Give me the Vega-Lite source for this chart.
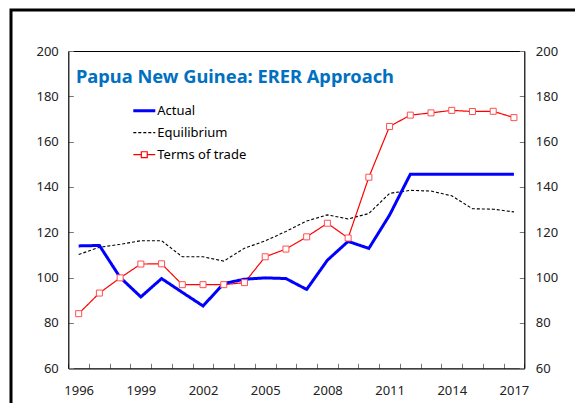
{
  "$schema": "https://vega.github.io/schema/vega-lite/v6.json",
  "width": 570,
  "height": 400,
  "autosize": {"type": "none"},
  "padding": {"left": 11, "top": 10, "right": -6, "bottom": -7},
  "title": {
    "text": "Papua New Guinea: ERER Approach",
    "anchor": "start",
    "frame": "group",
    "orient": "top",
    "offset": -91,
    "baseline": "alphabetic",
    "dx": 65,
    "font": "Noto Sans",
    "fontSize": 18.3,
    "fontWeight": "bold",
    "color": "#0070C0"
  },
  "data": {
    "values": [
      {"year": 1996, "series": "Actual", "value": 114.0},
      {"year": 1997, "series": "Actual", "value": 114.2},
      {"year": 1998, "series": "Actual", "value": 100.1},
      {"year": 1999, "series": "Actual", "value": 91.5},
      {"year": 2000, "series": "Actual", "value": 99.6},
      {"year": 2001, "series": "Actual", "value": 93.5},
      {"year": 2002, "series": "Actual", "value": 87.5},
      {"year": 2003, "series": "Actual", "value": 97.4},
      {"year": 2004, "series": "Actual", "value": 99.3},
      {"year": 2005, "series": "Actual", "value": 99.9},
      {"year": 2006, "series": "Actual", "value": 99.6},
      {"year": 2007, "series": "Actual", "value": 94.8},
      {"year": 2008, "series": "Actual", "value": 107.7},
      {"year": 2009, "series": "Actual", "value": 116.0},
      {"year": 2010, "series": "Actual", "value": 112.9},
      {"year": 2011, "series": "Actual", "value": 127.6},
      {"year": 2012, "series": "Actual", "value": 145.6},
      {"year": 2013, "series": "Actual", "value": 145.6},
      {"year": 2014, "series": "Actual", "value": 145.6},
      {"year": 2015, "series": "Actual", "value": 145.6},
      {"year": 2016, "series": "Actual", "value": 145.6},
      {"year": 2017, "series": "Actual", "value": 145.6},
      {"year": 1996, "series": "Equilibrium", "value": 110.2},
      {"year": 1997, "series": "Equilibrium", "value": 113.4},
      {"year": 1998, "series": "Equilibrium", "value": 114.7},
      {"year": 1999, "series": "Equilibrium", "value": 116.3},
      {"year": 2000, "series": "Equilibrium", "value": 116.3},
      {"year": 2001, "series": "Equilibrium", "value": 109.2},
      {"year": 2002, "series": "Equilibrium", "value": 109.2},
      {"year": 2003, "series": "Equilibrium", "value": 107.3},
      {"year": 2004, "series": "Equilibrium", "value": 113.0},
      {"year": 2005, "series": "Equilibrium", "value": 116.2},
      {"year": 2006, "series": "Equilibrium", "value": 120.4},
      {"year": 2007, "series": "Equilibrium", "value": 125.0},
      {"year": 2008, "series": "Equilibrium", "value": 127.7},
      {"year": 2009, "series": "Equilibrium", "value": 125.9},
      {"year": 2010, "series": "Equilibrium", "value": 128.3},
      {"year": 2011, "series": "Equilibrium", "value": 137.2},
      {"year": 2012, "series": "Equilibrium", "value": 138.5},
      {"year": 2013, "series": "Equilibrium", "value": 138.2},
      {"year": 2014, "series": "Equilibrium", "value": 136.1},
      {"year": 2015, "series": "Equilibrium", "value": 130.4},
      {"year": 2016, "series": "Equilibrium", "value": 130.2},
      {"year": 2017, "series": "Equilibrium", "value": 129.0},
      {"year": 1996, "series": "Terms of trade", "value": 84.1},
      {"year": 1997, "series": "Terms of trade", "value": 93.2},
      {"year": 1998, "series": "Terms of trade", "value": 99.9},
      {"year": 1999, "series": "Terms of trade", "value": 106.0},
      {"year": 2000, "series": "Terms of trade", "value": 106.1},
      {"year": 2001, "series": "Terms of trade", "value": 96.9},
      {"year": 2002, "series": "Terms of trade", "value": 96.9},
      {"year": 2003, "series": "Terms of trade", "value": 96.9},
      {"year": 2004, "series": "Terms of trade", "value": 97.8},
      {"year": 2005, "series": "Terms of trade", "value": 109.2},
      {"year": 2006, "series": "Terms of trade", "value": 112.6},
      {"year": 2007, "series": "Terms of trade", "value": 118.0},
      {"year": 2008, "series": "Terms of trade", "value": 124.0},
      {"year": 2009, "series": "Terms of trade", "value": 117.5},
      {"year": 2010, "series": "Terms of trade", "value": 144.3},
      {"year": 2011, "series": "Terms of trade", "value": 166.7},
      {"year": 2012, "series": "Terms of trade", "value": 171.7},
      {"year": 2013, "series": "Terms of trade", "value": 172.7},
      {"year": 2014, "series": "Terms of trade", "value": 173.8},
      {"year": 2015, "series": "Terms of trade", "value": 173.3},
      {"year": 2016, "series": "Terms of trade", "value": 173.4},
      {"year": 2017, "series": "Terms of trade", "value": 170.6}
    ]
  },
  "resolve": {"axis": {"x": "independent", "y": "independent"}},
  "layer": [
    {
      "transform": [{"filter": "datum.series == 'Equilibrium'"}],
      "mark": {"type": "line", "strokeWidth": 1.1},
      "encoding": {
        "x": {
          "field": "year", "type": "ordinal",
          "scale": {"type": "band", "paddingInner": 0, "paddingOuter": 0, "range": [57.3, 513.3]},
          "axis": {"orient": "bottom", "offset": -41.7, "tickBand": "extent", "tickSize": -5, "labelAngle": 0, "labelPadding": 21, "labelExpr": "(datum.value - 1996) % 3 == 0 ? datum.label : ''", "title": null}
        },
        "y": {
          "field": "value", "type": "quantitative",
          "scale": {"domain": [60, 200], "range": [358.3, 41], "nice": false, "zero": false},
          "axis": {"orient": "left", "offset": -57.3, "values": [60, 80, 100, 120, 140, 160, 180, 200], "tickSize": -5, "labelPadding": 15, "title": null}
        },
        "color": {
          "field": "series", "type": "nominal",
          "scale": {"domain": ["Actual", "Equilibrium", "Terms of trade"], "range": ["#0000FF", "#000000", "#FF0000"]},
          "legend": {
            "orient": "none", "legendX": 121.3, "legendY": 89.7, "title": null,
            "columns": 1, "clipHeight": 22,
            "symbolSize": 484, "labelOffset": 1, "rowPadding": 0, "padding": 0,
            "labelFont": "Noto Sans", "labelFontSize": 13, "labelColor": "#000",
            "encode": {"symbols": {"update": {
              "shape": {"signal": "datum.value == 'Terms of trade' ? 'M-1,0H-0.27M0.27,0H1M-0.27,-0.27H0.27V0.27H-0.27Z' : 'M-1,0H1'"},
              "strokeWidth": {"signal": "(datum.value == 'Actual' ? 3 : 1.2)"},
              "fill": {"value": "white"}
            }}}
          }
        },
        "strokeDash": {
          "field": "series", "type": "nominal",
          "scale": {"domain": ["Actual", "Equilibrium", "Terms of trade"], "range": [[1, 0], [3, 2], [1, 0]]}
        }
      }
    },
    {
      "transform": [{"filter": "datum.series == 'Terms of trade'"}],
      "mark": {"type": "line", "strokeWidth": 1.2},
      "encoding": {
        "x": {"field": "year", "type": "ordinal", "axis": {"orient": "top", "offset": -41, "labels": false, "ticks": false, "title": null}},
        "y": {"field": "value", "type": "quantitative", "axis": {"orient": "right", "offset": -56.7, "values": [60, 80, 100, 120, 140, 160, 180, 200], "tickSize": -5, "labelPadding": 16, "title": null}},
        "color": {"field": "series", "type": "nominal"},
        "strokeDash": {"field": "series", "type": "nominal"}
      }
    },
    {
      "transform": [{"filter": "datum.series == 'Actual'"}],
      "mark": {"type": "line", "strokeWidth": 3},
      "encoding": {
        "x": {"field": "year", "type": "ordinal", "axis": null},
        "y": {"field": "value", "type": "quantitative", "axis": null},
        "color": {"field": "series", "type": "nominal"},
        "strokeDash": {"field": "series", "type": "nominal"}
      }
    },
    {
      "transform": [{"filter": "datum.series == 'Terms of trade'"}],
      "mark": {"type": "point", "shape": "square", "size": 36, "filled": false, "fill": "white", "fillOpacity": 1, "stroke": "#FF5050", "strokeWidth": 1, "opacity": 1},
      "encoding": {
        "x": {"field": "year", "type": "ordinal", "axis": null},
        "y": {"field": "value", "type": "quantitative", "axis": null}
      }
    }
  ],
  "config": {
    "view": {"stroke": "#000000", "strokeWidth": 3},
    "axis": {"labelFont": "Noto Sans", "labelFontSize": 13, "labelColor": "#222222", "domainColor": "#000000", "domainWidth": 1.2, "tickColor": "#777777", "tickWidth": 1, "grid": false}
  }
}
